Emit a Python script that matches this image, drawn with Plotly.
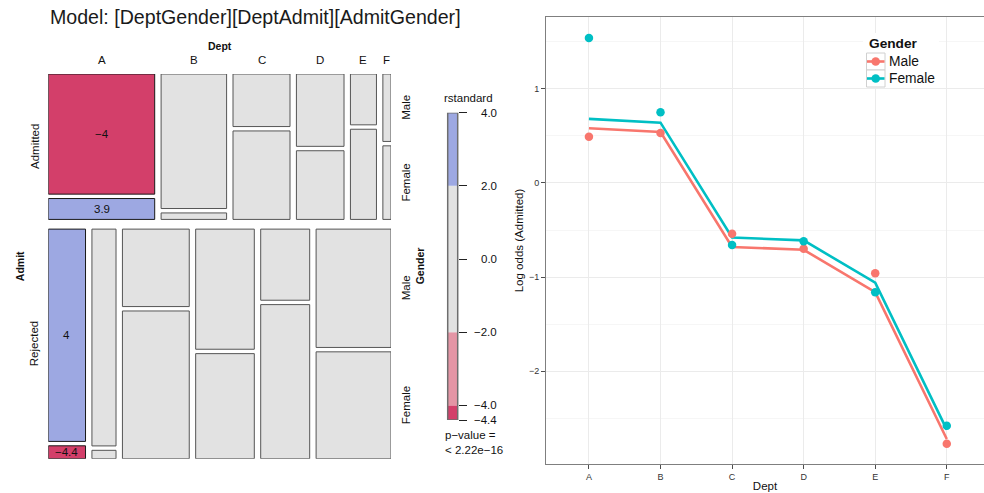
import plotly.graph_objects as go

FONT = "Liberation Sans, Arial, Helvetica, sans-serif"
W, H = 984, 493

# ---------------- data ----------------
depts = ["A", "B", "C", "D", "E", "F"]
genders = ["Male", "Female"]
admit_levels = ["Admitted", "Rejected"]

# UC Berkeley admissions counts by department
admitted_male = [512, 353, 120, 138, 53, 22]
admitted_female = [89, 17, 202, 131, 94, 24]
rejected_male = [313, 207, 205, 279, 138, 351]
rejected_female = [19, 8, 391, 244, 299, 317]

# standardized residuals printed in the mosaic (None: |r| < 2, unlabelled)
rstd_admitted_male = [-4.03, None, None, None, None, None]
rstd_admitted_female = [3.92, None, None, None, None, None]
rstd_rejected_male = [3.96, None, None, None, None, None]
rstd_rejected_female = [-4.38, None, None, None, None, None]

# shading legend ticks
legend_ticks = [4.0, 2.0, 0.0, -2.0, -4.0, -4.4]
legend_tick_text = ["4.0", "2.0", "0.0", "\u22122.0", "\u22124.0", "\u22124.4"]

# observed and fitted log odds of admission
logodds_male = [0.49, 0.53, -0.54, -0.70, -0.96, -2.77]
logodds_female = [1.54, 0.75, -0.66, -0.62, -1.16, -2.58]
fitted_male = [0.58, 0.54, -0.68, -0.71, -1.16, -2.72]
fitted_female = [0.68, 0.64, -0.58, -0.61, -1.06, -2.62]

y_ticks = [-2, -1, 0, 1]
y_tick_text = ["\u22122", "\u22121", "0", "1"]

# ---------------- styling ----------------
GREY = "#E2E2E2"
BLUE_LIGHT = "#9DA8E2"
BLUE_DARK = "#4A6FE3"
RED_LIGHT = "#E495A5"
RED_DARK = "#D33F6A"
MALE_COL = "#F8766D"
FEMALE_COL = "#00BFC4"


def px_x(p):
    return p / W


def px_y(p):
    return 1 - p / H


def shade(r):
    if r is None or abs(r) < 2:
        return GREY
    if r >= 4:
        return BLUE_DARK
    if r > 0:
        return BLUE_LIGHT
    if r <= -4:
        return RED_DARK
    return RED_LIGHT


def fmt(r):
    s = ("%.1f" % r).rstrip("0").rstrip(".")
    return s.replace("-", "\u2212")


fig = go.Figure()
shapes = []
annotations = []

# ---------------- mosaic (left) ----------------
GAP_ROW = 9.7 / 384.7
GAP_COL = 6.4 / 342.7
GAP_SEX = 4.4 / 384.7

rows = {
    "Admitted": (admitted_male, admitted_female, rstd_admitted_male, rstd_admitted_female),
    "Rejected": (rejected_male, rejected_female, rstd_rejected_male, rstd_rejected_female),
}
grand = sum(sum(v[0]) + sum(v[1]) for v in rows.values())

fig.add_trace(go.Scatter(x=[None], y=[None], xaxis="x2", yaxis="y2",
                         showlegend=False, hoverinfo="skip"))

y = 0.0
for ri, row in enumerate(admit_levels):
    males, females, r_m, r_f = rows[row]
    totals = [m + f for m, f in zip(males, females)]
    row_total = sum(totals)
    row_h = row_total / grand * (1 - GAP_ROW)
    cell_h = row_h - GAP_SEX
    x = 0.0
    for d in range(len(depts)):
        w = totals[d] / row_total * (1 - (len(depts) - 1) * GAP_COL)
        hm = males[d] / totals[d] * cell_h
        cells = [
            (y, y + hm, r_m[d]),
            (y + hm + GAP_SEX, y + row_h, r_f[d]),
        ]
        for (y0, y1, r), g in zip(cells, genders):
            col = shade(r)
            shapes.append(dict(type="rect", xref="x2", yref="y2", x0=x, x1=x + w,
                               y0=y0, y1=y1, fillcolor=col, layer="above",
                               line=dict(color="#1A1A1A" if col != GREY else "#555555",
                                         width=1)))
            if r is not None and abs(r) >= 2:
                annotations.append(dict(xref="x2", yref="y2", x=x + w / 2, y=(y0 + y1) / 2,
                                        text=fmt(r), showarrow=False,
                                        font=dict(family=FONT, size=11.5, color="#111111")))
            # gender labels on the right, next to the last column
            if d == len(depts) - 1:
                annotations.append(dict(xref="x2", yref="y2", x=1, y=(y0 + y1) / 2,
                                        xshift=15, text=g, textangle=-90, showarrow=False,
                                        font=dict(family=FONT, size=11.5, color="#111111")))
        # department labels above the first row
        if ri == 0:
            annotations.append(dict(xref="x2", yref="y2", x=x + w / 2, y=0, yshift=14,
                                    text=depts[d], showarrow=False,
                                    font=dict(family=FONT, size=11.5, color="#111111")))
        x += w + GAP_COL
    annotations.append(dict(xref="x2", yref="y2", x=0, y=y + row_h / 2, xshift=-14,
                            text=row, textangle=-90, showarrow=False,
                            font=dict(family=FONT, size=11.5, color="#111111")))
    y += row_h + GAP_ROW

annotations += [
    dict(xref="x2", yref="y2", x=0.5, y=0, yshift=28, text="<b>Dept</b>", showarrow=False,
         font=dict(family=FONT, size=10.5, color="#111111")),
    dict(xref="x2", yref="y2", x=0, y=0.5, xshift=-27.5, text="<b>Admit</b>", textangle=-90,
         showarrow=False, font=dict(family=FONT, size=10.5, color="#111111")),
    dict(xref="x2", yref="y2", x=1, y=0.5, xshift=29, text="<b>Gender</b>", textangle=-90,
         showarrow=False, font=dict(family=FONT, size=10.5, color="#111111")),
    dict(xref="paper", yref="paper", x=px_x(48), y=px_y(17.5), xanchor="left",
         yanchor="middle", text="Model: [DeptGender][DeptAdmit][AdmitGender]",
         showarrow=False, font=dict(family=FONT, size=19.6, color="#1A1A1A")),
]

# ---------------- shading legend ----------------
fig.add_trace(go.Scatter(x=[None], y=[None], xaxis="x3", yaxis="y3",
                         showlegend=False, hoverinfo="skip"))
lo, hi = min(legend_ticks), max(legend_ticks)
seg_edges = sorted(set([lo, -4.0, -2.0, 2.0, hi]))
for a, b in zip(seg_edges[:-1], seg_edges[1:]):
    shapes.append(dict(type="rect", xref="x3 domain", yref="y3", x0=0, x1=1, y0=a, y1=b,
                       fillcolor=shade((a + b) / 2), line=dict(width=0), layer="above"))
shapes.append(dict(type="rect", xref="x3 domain", yref="y3", x0=0, x1=1, y0=lo, y1=hi,
                   line=dict(color="#6E6E6E", width=1.5), layer="above"))
for v, t in zip(legend_ticks, legend_tick_text):
    annotations.append(dict(xref="x3 domain", yref="y3", x=1, xshift=41.5, y=v,
                            xanchor="right", yanchor="middle", text=t, showarrow=False,
                            font=dict(family=FONT, size=11.5, color="#111111")))
annotations += [
    dict(xref="x3 domain", yref="y3 domain", x=0.5, xshift=15.5, y=1, yshift=6.5,
         xanchor="center", yanchor="bottom", text="rstandard", showarrow=False,
         font=dict(family=FONT, size=11.5, color="#111111")),
    dict(xref="x3 domain", yref="y3 domain", x=0, xshift=-5, y=0, yshift=-7, xanchor="left",
         yanchor="top", align="left", text="p\u2212value =<br>&lt; 2.22e\u221216",
         showarrow=False, font=dict(family=FONT, size=11.5, color="#111111")),
]

# ---------------- log odds plot (right) ----------------
for yv, col in ((fitted_male, MALE_COL), (fitted_female, FEMALE_COL)):
    fig.add_trace(go.Scatter(x=depts, y=yv, mode="lines", line=dict(color=col, width=2.6),
                             showlegend=False, hoverinfo="skip"))
for yv, col in ((logodds_male, MALE_COL), (logodds_female, FEMALE_COL)):
    fig.add_trace(go.Scatter(x=depts, y=yv, mode="markers",
                             marker=dict(color=col, size=8.5, line=dict(width=0)),
                             showlegend=False, hoverinfo="skip"))

# legend box for Gender
shapes.append(dict(type="rect", xref="paper", yref="paper", x0=px_x(863), x1=px_x(939),
                   y0=px_y(88), y1=px_y(33), fillcolor="white", line=dict(width=0),
                   layer="above"))
annotations.append(dict(xref="paper", yref="paper", x=px_x(867), y=px_y(43.5),
                        xanchor="left", yanchor="middle", text="<b>Gender</b>",
                        showarrow=False, font=dict(family=FONT, size=13.7, color="#111111")))
for i, (g, col) in enumerate(zip(genders, (MALE_COL, FEMALE_COL))):
    ytop, ybot = 53 + 17 * i, 70 + 17 * i
    ymid = (ytop + ybot) / 2
    shapes.append(dict(type="rect", xref="paper", yref="paper", x0=px_x(866.5), x1=px_x(885),
                       y0=px_y(ybot), y1=px_y(ytop), fillcolor="white",
                       line=dict(color="#D0D0D0", width=1), layer="above"))
    shapes.append(dict(type="line", xref="paper", yref="paper", x0=px_x(867), x1=px_x(884.5),
                       y0=px_y(ymid), y1=px_y(ymid), line=dict(color=col, width=2.6),
                       layer="above"))
    shapes.append(dict(type="circle", xref="paper", yref="paper", xsizemode="pixel",
                       ysizemode="pixel", xanchor=px_x(875.7), yanchor=px_y(ymid),
                       x0=-4.3, x1=4.3, y0=-4.3, y1=4.3, fillcolor=col,
                       line=dict(width=0), layer="above"))
    annotations.append(dict(xref="paper", yref="paper", x=px_x(886.5), y=px_y(ymid),
                            xanchor="left", yanchor="middle", text=g, showarrow=False,
                            font=dict(family=FONT, size=13.8, color="#111111")))

fig.update_layout(
    width=W, height=H,
    margin=dict(l=0, r=0, t=0, b=0),
    paper_bgcolor="white", plot_bgcolor="white",
    showlegend=False,
    font=dict(family=FONT, color="#111111"),
    shapes=shapes, annotations=annotations,
    xaxis=dict(domain=[px_x(546), 1.0], type="category", range=[-0.6, 5.52],
               showline=True, linecolor="#7F7F7F", linewidth=1, mirror=True,
               ticks="outside", ticklen=4, tickcolor="#4D4D4D",
               showgrid=True, gridcolor="#EBEBEB", gridwidth=1.3, zeroline=False,
               tickfont=dict(family=FONT, size=9, color="#333333"),
               title=dict(text="Dept", standoff=1,
                          font=dict(family=FONT, size=11.5, color="#111111")),
               anchor="y"),
    yaxis=dict(domain=[px_y(464), px_y(17)], range=[-2.985, 1.762],
               tickmode="array", tickvals=y_ticks, ticktext=y_tick_text,
               showline=True, linecolor="#7F7F7F", linewidth=1, mirror=False,
               ticks="outside", ticklen=4, tickcolor="#4D4D4D",
               showgrid=True, gridcolor="#EBEBEB", gridwidth=1.3, zeroline=False,
               minor=dict(tickmode="array", tickvals=[-2.5, -1.5, -0.5, 0.5, 1.5],
                          showgrid=True, gridcolor="#F6F6F6", gridwidth=1, ticks=""),
               tickfont=dict(family=FONT, size=9, color="#333333"),
               title=dict(text="Log odds (Admitted)", standoff=2,
                          font=dict(family=FONT, size=11.5, color="#111111")),
               anchor="x"),
    xaxis2=dict(domain=[px_x(48.3), px_x(391)], range=[0, 1], visible=False,
                fixedrange=True, anchor="y2"),
    yaxis2=dict(domain=[px_y(458.7), px_y(74)], range=[1, 0], visible=False,
                fixedrange=True, anchor="x2"),
    xaxis3=dict(domain=[px_x(447.7), px_x(457.7)], range=[0, 1], visible=False,
                fixedrange=True, anchor="y3"),
    yaxis3=dict(domain=[px_y(420), px_y(112.7)], range=[lo, hi], side="right",
                tickmode="array", tickvals=legend_ticks, showticklabels=False,
                ticks="outside", ticklen=8, tickcolor="#222222", tickwidth=1,
                showgrid=False, zeroline=False, showline=False, fixedrange=True,
                anchor="x3"),
)

fig.write_html("out.html")
